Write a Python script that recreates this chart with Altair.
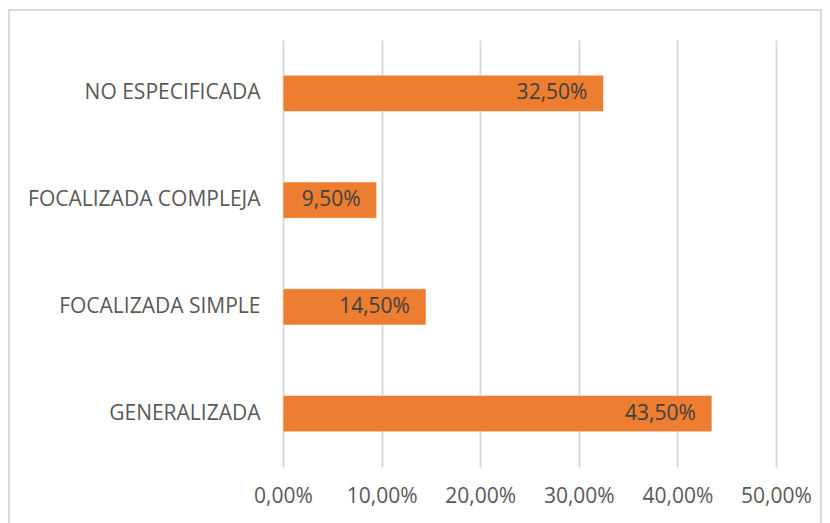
import altair as alt
import pandas as pd

categories = ["NO ESPECIFICADA", "FOCALIZADA COMPLEJA", "FOCALIZADA SIMPLE", "GENERALIZADA"]
values = [0.325, 0.095, 0.145, 0.435]
labels = ["32,50%", "9,50%", "14,50%", "43,50%"]
x_ticks = [0, 0.1, 0.2, 0.3, 0.4, 0.5]

df = pd.DataFrame({"cat": categories, "val": values, "label": labels})

FONT = "Open Sans"
TXT = "#595959"
FS = 21

y_enc = alt.Y("cat:N", sort=categories,
              scale=alt.Scale(paddingInner=0.66, paddingOuter=0.33),
              axis=alt.Axis(title=None, ticks=False, domain=False, grid=False,
                            labelFont=FONT, labelFontSize=FS, labelColor=TXT,
                            labelPadding=23, labelLimit=400))
x_enc = alt.X("val:Q", scale=alt.Scale(domain=[0, 0.5], nice=False),
              axis=alt.Axis(title=None, values=x_ticks, ticks=False, domain=False,
                            grid=True, gridColor="#D9D9D9", gridWidth=2,
                            labelFont=FONT, labelFontSize=FS, labelColor=TXT,
                            labelPadding=18, labelOverlap=False, labelFlush=False,
                            labelExpr="replace(format(datum.value, '.2%'), '.', ',')"))

bars = alt.Chart(df).mark_bar(color="#ED7D31", stroke="#FFFFFF", strokeWidth=0.5).encode(
    x=x_enc, y=y_enc)

text = alt.Chart(df).mark_text(align="right", baseline="middle", dx=-16,
                               font=FONT, fontSize=FS, color="#404040").encode(
    x="val:Q", y=alt.Y("cat:N", sort=categories), text="label:N")

border = alt.Chart(df).mark_rect(fill=None, stroke="#D9D9D9", strokeWidth=2).encode(
    x=alt.value(-274), x2=alt.value(538), y=alt.value(-30), y2=alt.value(520))

chart = alt.layer(bars, text, border).properties(
    width=493, height=427,
    autosize=alt.AutoSizeParams(type="none"),
    padding={"left": 275, "top": 32, "right": 46, "bottom": 56},
).configure_view(stroke=None)

chart.save("out.html", embed_options={"renderer": "svg", "actions": False})
